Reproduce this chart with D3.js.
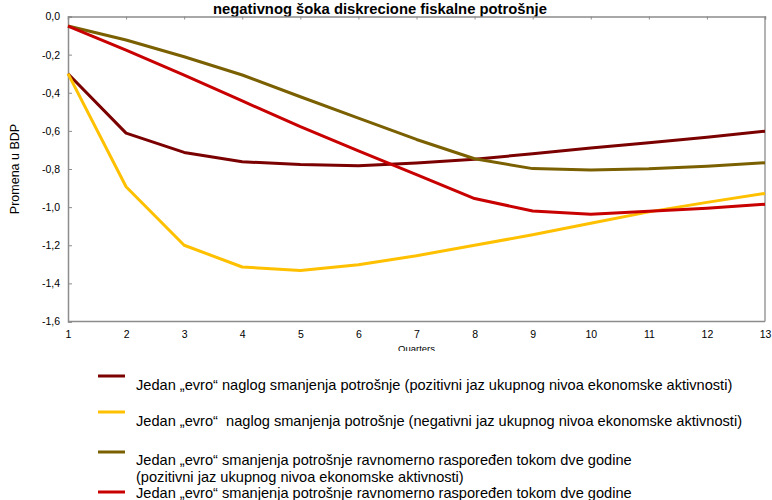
<!DOCTYPE html>
<html>
<head>
<meta charset="utf-8">
<script src="https://cdn.jsdelivr.net/npm/d3@7"></script>
<style>
  html, body { margin: 0; padding: 0; background: #fff; }
  svg { display: block; font-family: "Liberation Sans", Arial, sans-serif; }
</style>
</head>
<body>
<svg id="chart" width="772" height="500"></svg>
<script>
const titleText = "negativnog šoka diskrecione fiskalne potrošnje";
const quarters = [1, 2, 3, 4, 5, 6, 7, 8, 9, 10, 11, 12, 13];
const yTicks = [0, -0.2, -0.4, -0.6, -0.8, -1.0, -1.2, -1.4, -1.6];
const seriesNames = [
  ["Jedan „evro“ naglog smanjenja potrošnje (pozitivni jaz ukupnog nivoa ekonomske aktivnosti)"],
  ["Jedan „evro“  naglog smanjenja potrošnje (negativni jaz ukupnog nivoa ekonomske aktivnosti)"],
  ["Jedan „evro“ smanjenja potrošnje ravnomerno raspoređen tokom dve godine", "(pozitivni jaz ukupnog nivoa ekonomske aktivnosti)"],
  ["Jedan „evro“ smanjenja potrošnje ravnomerno raspoređen tokom dve godine"]
];
const seriesColors = ["#7b0000", "#ffc000", "#7a6000", "#c80000"];
const sharpPositive = [-0.30, -0.612, -0.713, -0.762, -0.776, -0.783, -0.768, -0.749, -0.72, -0.69, -0.662, -0.634, -0.602];
const sharpNegative = [-0.30, -0.893, -1.20, -1.314, -1.333, -1.302, -1.255, -1.20, -1.145, -1.085, -1.025, -0.975, -0.928];
const spreadPositive = [-0.05, -0.123, -0.211, -0.307, -0.421, -0.533, -0.645, -0.746, -0.798, -0.805, -0.799, -0.785, -0.767];
const spreadNegative = [-0.05, -0.176, -0.307, -0.443, -0.578, -0.705, -0.83, -0.955, -1.02, -1.037, -1.022, -1.006, -0.985];
const seriesValues = [sharpPositive, sharpNegative, spreadPositive, spreadNegative];

const svg = d3.select("#chart");
const L = 68, R = 765, T = 16.5, B = 321.5;

const x = d3.scaleLinear().domain([1, 13]).range([L, R]);
const y = d3.scaleLinear().domain([-1.6, 0]).range([B, T]);

// Title
svg.append("text")
  .attr("x", 380).attr("y", 13.5)
  .attr("text-anchor", "middle")
  .attr("font-size", 14.8).attr("font-weight", "bold")
  .text(titleText);

// Plot border (bottom and right)
svg.append("line").attr("x1", L).attr("x2", R).attr("y1", B).attr("y2", B)
  .attr("stroke", "#8c8c8c").attr("stroke-width", 1.3);
svg.append("line").attr("x1", R).attr("x2", R).attr("y1", T).attr("y2", B)
  .attr("stroke", "#8c8c8c").attr("stroke-width", 1.3);

// Y axis (ticks pointing inward)
const fmt = v => d3.format(".1f")(v).replace("−", "-").replace(".", ",");
const yAxis = svg.append("g").attr("transform", `translate(${L},0)`)
  .call(d3.axisLeft(y).tickValues(yTicks).tickSize(-4).tickPadding(8).tickFormat(fmt));
yAxis.select(".domain").attr("stroke", "#8c8c8c").attr("stroke-width", 1.5);
yAxis.selectAll(".tick line").attr("stroke", "#8c8c8c");
yAxis.selectAll(".tick text").attr("font-size", 10.5).attr("fill", "#000")
  .attr("font-family", "Liberation Sans, Arial, sans-serif");

// X axis at top (value 0) with ticks pointing down, labels at bottom
const xTop = svg.append("g").attr("transform", `translate(0,${T})`)
  .call(d3.axisBottom(x).tickValues(quarters).tickSize(3).tickFormat(""));
xTop.select(".domain").attr("stroke", "#8c8c8c").attr("stroke-width", 1.5);
xTop.selectAll(".tick line").attr("stroke", "#8c8c8c");

const xLabels = svg.append("g").attr("transform", `translate(0,${B})`)
  .call(d3.axisBottom(x).tickValues(quarters).tickSize(0).tickPadding(9).tickFormat(d3.format("d")));
xLabels.select(".domain").remove();
xLabels.selectAll(".tick text").attr("font-size", 10.5).attr("fill", "#000")
  .attr("font-family", "Liberation Sans, Arial, sans-serif");

// Axis titles
svg.append("text")
  .attr("transform", `translate(19,${(T + B) / 2}) rotate(-90)`)
  .attr("text-anchor", "middle").attr("font-size", 12.5)
  .text("Promena u BDP");
svg.append("text")
  .attr("x", (L + R) / 2).attr("y", 352)
  .attr("text-anchor", "middle").attr("font-size", 9.5)
  .text("Quarters");

// Lines
const line = d3.line().x((d, i) => x(quarters[i])).y(d => y(d));
seriesValues.forEach((vals, k) => {
  svg.append("path").datum(vals)
    .attr("d", line)
    .attr("fill", "none")
    .attr("stroke", seriesColors[k])
    .attr("stroke-width", 3)
    .attr("stroke-linejoin", "round");
});

// Legend box (covers the lower part of the axis title)
svg.append("rect").attr("x", 90).attr("y", 351).attr("width", 682).attr("height", 149).attr("fill", "#fff");

const legendRows = [
  { line: 376, text: [385] },
  { line: 412, text: [421] },
  { line: 452, text: [460, 477] },
  { line: 492, text: [493] }
];
legendRows.forEach((r, k) => {
  svg.append("line").attr("x1", 98).attr("x2", 125).attr("y1", r.line).attr("y2", r.line)
    .attr("stroke", seriesColors[k]).attr("stroke-width", 3);
  seriesNames[k].forEach((t, j) => {
    svg.append("text").attr("x", 136).attr("y", r.text[j] + 5)
      .attr("font-size", 14.6).attr("fill", "#000")
      .style("white-space", "pre")
      .text(t);
  });
});
</script>
</body>
</html>
